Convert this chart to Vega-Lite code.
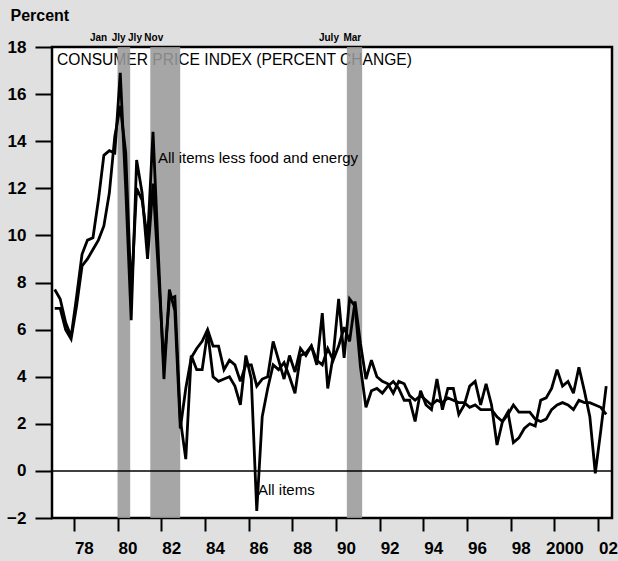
{
  "$schema": "https://vega.github.io/schema/vega-lite/v6.json",
  "width": 560,
  "height": 471,
  "autosize": {"type": "none"},
  "padding": {"left": 52, "top": 47, "right": 6, "bottom": 43},
  "background": "#e0e0e0",
  "config": {
    "view": {"stroke": "#000000", "strokeWidth": 2.5, "fill": "#ffffff"},
    "font": "Liberation Sans",
    "axis": {"grid": false, "domain": false}
  },
  "datasets": {
    "cpi": [
      {"t":1977.125,"s":"all","v":7.7},{"t":1977.375,"s":"all","v":7.3},{"t":1977.625,"s":"all","v":6.3},{"t":1977.875,"s":"all","v":5.7},
      {"t":1978.125,"s":"all","v":7.4},{"t":1978.375,"s":"all","v":9.2},{"t":1978.625,"s":"all","v":9.8},{"t":1978.875,"s":"all","v":9.9},
      {"t":1979.125,"s":"all","v":11.5},{"t":1979.375,"s":"all","v":13.4},{"t":1979.625,"s":"all","v":13.6},{"t":1979.875,"s":"all","v":13.5},
      {"t":1980.125,"s":"all","v":16.9},{"t":1980.375,"s":"all","v":12.0},{"t":1980.625,"s":"all","v":6.4},{"t":1980.875,"s":"all","v":13.2},
      {"t":1981.125,"s":"all","v":11.8},{"t":1981.375,"s":"all","v":9.0},{"t":1981.625,"s":"all","v":12.2},{"t":1981.875,"s":"all","v":8.4},
      {"t":1982.125,"s":"all","v":4.5},{"t":1982.375,"s":"all","v":7.3},{"t":1982.625,"s":"all","v":7.4},{"t":1982.875,"s":"all","v":2.2},
      {"t":1983.125,"s":"all","v":0.5},{"t":1983.375,"s":"all","v":4.9},{"t":1983.625,"s":"all","v":4.3},{"t":1983.875,"s":"all","v":4.3},
      {"t":1984.125,"s":"all","v":5.9},{"t":1984.375,"s":"all","v":4.0},{"t":1984.625,"s":"all","v":3.8},{"t":1984.875,"s":"all","v":3.9},
      {"t":1985.125,"s":"all","v":4.0},{"t":1985.375,"s":"all","v":3.6},{"t":1985.625,"s":"all","v":2.8},{"t":1985.875,"s":"all","v":4.9},
      {"t":1986.125,"s":"all","v":3.9},{"t":1986.375,"s":"all","v":-1.7},{"t":1986.625,"s":"all","v":2.3},{"t":1986.875,"s":"all","v":3.5},
      {"t":1987.125,"s":"all","v":4.5},{"t":1987.375,"s":"all","v":4.3},{"t":1987.625,"s":"all","v":4.6},{"t":1987.875,"s":"all","v":4.0},
      {"t":1988.125,"s":"all","v":3.3},{"t":1988.375,"s":"all","v":4.9},{"t":1988.625,"s":"all","v":5.0},{"t":1988.875,"s":"all","v":5.3},
      {"t":1989.125,"s":"all","v":4.5},{"t":1989.375,"s":"all","v":6.7},{"t":1989.625,"s":"all","v":3.5},{"t":1989.875,"s":"all","v":4.9},
      {"t":1990.125,"s":"all","v":7.3},{"t":1990.375,"s":"all","v":4.8},{"t":1990.625,"s":"all","v":7.3},{"t":1990.875,"s":"all","v":7.0},
      {"t":1991.125,"s":"all","v":4.4},{"t":1991.375,"s":"all","v":2.7},{"t":1991.625,"s":"all","v":3.4},{"t":1991.875,"s":"all","v":3.5},
      {"t":1992.125,"s":"all","v":3.3},{"t":1992.375,"s":"all","v":3.6},{"t":1992.625,"s":"all","v":3.8},{"t":1992.875,"s":"all","v":3.5},
      {"t":1993.125,"s":"all","v":3.0},{"t":1993.375,"s":"all","v":3.0},{"t":1993.625,"s":"all","v":2.1},{"t":1993.875,"s":"all","v":3.4},
      {"t":1994.125,"s":"all","v":2.8},{"t":1994.375,"s":"all","v":2.6},{"t":1994.625,"s":"all","v":3.9},{"t":1994.875,"s":"all","v":2.6},
      {"t":1995.125,"s":"all","v":3.5},{"t":1995.375,"s":"all","v":3.5},{"t":1995.625,"s":"all","v":2.4},{"t":1995.875,"s":"all","v":2.8},
      {"t":1996.125,"s":"all","v":3.6},{"t":1996.375,"s":"all","v":3.8},{"t":1996.625,"s":"all","v":2.8},{"t":1996.875,"s":"all","v":3.7},
      {"t":1997.125,"s":"all","v":2.8},{"t":1997.375,"s":"all","v":1.1},{"t":1997.625,"s":"all","v":2.1},{"t":1997.875,"s":"all","v":2.5},
      {"t":1998.125,"s":"all","v":1.2},{"t":1998.375,"s":"all","v":1.4},{"t":1998.625,"s":"all","v":1.8},{"t":1998.875,"s":"all","v":2.0},
      {"t":1999.125,"s":"all","v":1.9},{"t":1999.375,"s":"all","v":3.0},{"t":1999.625,"s":"all","v":3.1},{"t":1999.875,"s":"all","v":3.5},
      {"t":2000.125,"s":"all","v":4.3},{"t":2000.375,"s":"all","v":3.6},{"t":2000.625,"s":"all","v":3.8},{"t":2000.875,"s":"all","v":3.3},
      {"t":2001.125,"s":"all","v":4.4},{"t":2001.375,"s":"all","v":3.4},{"t":2001.625,"s":"all","v":2.3},{"t":2001.875,"s":"all","v":-0.1},
      {"t":2002.125,"s":"all","v":1.7},{"t":2002.375,"s":"all","v":3.6},
      {"t":1977.125,"s":"core","v":6.9},{"t":1977.375,"s":"core","v":6.9},{"t":1977.625,"s":"core","v":6.0},{"t":1977.875,"s":"core","v":5.6},
      {"t":1978.125,"s":"core","v":7.0},{"t":1978.375,"s":"core","v":8.7},{"t":1978.625,"s":"core","v":9.0},{"t":1978.875,"s":"core","v":9.4},
      {"t":1979.125,"s":"core","v":9.8},{"t":1979.375,"s":"core","v":10.4},{"t":1979.625,"s":"core","v":11.8},{"t":1979.875,"s":"core","v":14.2},
      {"t":1980.125,"s":"core","v":15.5},{"t":1980.375,"s":"core","v":13.5},{"t":1980.625,"s":"core","v":7.5},{"t":1980.875,"s":"core","v":12.0},
      {"t":1981.125,"s":"core","v":11.5},{"t":1981.375,"s":"core","v":9.8},{"t":1981.625,"s":"core","v":14.4},{"t":1981.875,"s":"core","v":9.1},
      {"t":1982.125,"s":"core","v":3.9},{"t":1982.375,"s":"core","v":7.7},{"t":1982.625,"s":"core","v":6.8},{"t":1982.875,"s":"core","v":1.8},
      {"t":1983.125,"s":"core","v":3.5},{"t":1983.375,"s":"core","v":4.8},{"t":1983.625,"s":"core","v":5.2},{"t":1983.875,"s":"core","v":5.5},
      {"t":1984.125,"s":"core","v":6.0},{"t":1984.375,"s":"core","v":5.3},{"t":1984.625,"s":"core","v":5.3},{"t":1984.875,"s":"core","v":4.3},
      {"t":1985.125,"s":"core","v":4.7},{"t":1985.375,"s":"core","v":4.5},{"t":1985.625,"s":"core","v":3.8},{"t":1985.875,"s":"core","v":4.5},
      {"t":1986.125,"s":"core","v":4.5},{"t":1986.375,"s":"core","v":3.6},{"t":1986.625,"s":"core","v":3.9},{"t":1986.875,"s":"core","v":4.0},
      {"t":1987.125,"s":"core","v":5.5},{"t":1987.375,"s":"core","v":4.7},{"t":1987.625,"s":"core","v":3.9},{"t":1987.875,"s":"core","v":4.9},
      {"t":1988.125,"s":"core","v":4.2},{"t":1988.375,"s":"core","v":5.2},{"t":1988.625,"s":"core","v":4.9},{"t":1988.875,"s":"core","v":5.3},
      {"t":1989.125,"s":"core","v":4.7},{"t":1989.375,"s":"core","v":4.5},{"t":1989.625,"s":"core","v":5.2},{"t":1989.875,"s":"core","v":4.7},
      {"t":1990.125,"s":"core","v":5.3},{"t":1990.375,"s":"core","v":6.1},{"t":1990.625,"s":"core","v":5.5},{"t":1990.875,"s":"core","v":7.2},
      {"t":1991.125,"s":"core","v":5.4},{"t":1991.375,"s":"core","v":3.9},{"t":1991.625,"s":"core","v":4.7},{"t":1991.875,"s":"core","v":4.0},
      {"t":1992.125,"s":"core","v":3.8},{"t":1992.375,"s":"core","v":3.7},{"t":1992.625,"s":"core","v":3.3},{"t":1992.875,"s":"core","v":3.8},
      {"t":1993.125,"s":"core","v":3.7},{"t":1993.375,"s":"core","v":3.2},{"t":1993.625,"s":"core","v":3.0},{"t":1993.875,"s":"core","v":3.2},
      {"t":1994.125,"s":"core","v":3.0},{"t":1994.375,"s":"core","v":2.8},{"t":1994.625,"s":"core","v":3.0},{"t":1994.875,"s":"core","v":2.9},
      {"t":1995.125,"s":"core","v":3.1},{"t":1995.375,"s":"core","v":3.0},{"t":1995.625,"s":"core","v":2.9},{"t":1995.875,"s":"core","v":2.9},
      {"t":1996.125,"s":"core","v":2.7},{"t":1996.375,"s":"core","v":2.8},{"t":1996.625,"s":"core","v":2.6},{"t":1996.875,"s":"core","v":2.6},
      {"t":1997.125,"s":"core","v":2.6},{"t":1997.375,"s":"core","v":2.3},{"t":1997.625,"s":"core","v":2.1},{"t":1997.875,"s":"core","v":2.4},
      {"t":1998.125,"s":"core","v":2.8},{"t":1998.375,"s":"core","v":2.5},{"t":1998.625,"s":"core","v":2.5},{"t":1998.875,"s":"core","v":2.5},
      {"t":1999.125,"s":"core","v":2.2},{"t":1999.375,"s":"core","v":2.1},{"t":1999.625,"s":"core","v":2.2},{"t":1999.875,"s":"core","v":2.6},
      {"t":2000.125,"s":"core","v":2.8},{"t":2000.375,"s":"core","v":2.9},{"t":2000.625,"s":"core","v":2.8},{"t":2000.875,"s":"core","v":2.6},
      {"t":2001.125,"s":"core","v":3.0},{"t":2001.375,"s":"core","v":2.9},{"t":2001.625,"s":"core","v":2.9},{"t":2001.875,"s":"core","v":2.8},
      {"t":2002.125,"s":"core","v":2.7},{"t":2002.375,"s":"core","v":2.4}
    ]
  },
  "layer": [
    {
      "data": {"values": [{"t": 1977.23, "v": 17.45, "label": "CONSUMER PRICE INDEX (PERCENT CHANGE)"}]},
      "mark": {"type": "text", "align": "left", "baseline": "middle", "fontSize": 15.6, "color": "#000000", "font": "Liberation Sans"},
      "encoding": {
        "x": {"field": "t", "type": "quantitative"},
        "y": {"field": "v", "type": "quantitative"},
        "text": {"field": "label"}
      }
    },
    {
      "data": {"values": [{"t": 1980.0, "b": 1980.58}, {"t": 1981.5, "b": 1982.87}, {"t": 1990.5, "b": 1991.2}]},
      "mark": {"type": "rect", "color": "#9a9a9a", "opacity": 0.88},
      "encoding": {
        "x": {"field": "t", "type": "quantitative"},
        "x2": {"field": "b"}
      }
    },
    {
      "data": {"values": [{"v": 0}]},
      "mark": {"type": "rule", "color": "#000000", "strokeWidth": 1.5},
      "encoding": {"y": {"field": "v", "type": "quantitative"}}
    },
    {
      "data": {"name": "cpi"},
      "mark": {"type": "line", "color": "#000000", "strokeWidth": 2.8, "strokeJoin": "miter", "strokeMiterLimit": 3},
      "encoding": {
        "x": {
          "field": "t", "type": "quantitative",
          "scale": {"domain": [1977, 2002.64], "nice": false, "zero": false},
          "axis": {
            "title": null, "domain": false, "grid": false,
            "values": [1978,1979,1980,1981,1982,1983,1984,1985,1986,1987,1988,1989,1990,1991,1992,1993,1994,1995,1996,1997,1998,1999,2000,2001,2002],
            "labelExpr": "datum.value % 2 == 0 ? (datum.value == 2000 ? '2000' : substring(toString(datum.value), 2, 4)) : ''",
            "tickSize": 13, "tickWidth": 2, "tickColor": "#000000",
            "labelOffset": 10, "labelPadding": 9, "labelFlush": false, "labelOverlap": false, "labelBound": false,
            "labelFont": "Liberation Sans", "labelFontSize": 17, "labelFontWeight": "bold", "labelColor": "#000000"
          }
        },
        "y": {
          "field": "v", "type": "quantitative",
          "scale": {"domain": [-2, 18], "nice": false, "zero": false},
          "axis": {
            "title": "Percent", "titleAngle": 0, "titleX": -42, "titleY": -32, "titleAlign": "left", "titleBaseline": "middle",
            "titleFont": "Liberation Sans", "titleFontSize": 16, "titleFontWeight": "bold", "titleColor": "#000000",
            "domain": false, "grid": false,
            "values": [-2,0,2,4,6,8,10,12,14,16,18],
            "tickSize": 17, "tickWidth": 2, "tickColor": "#000000",
            "labelPadding": 9, "labelFlush": false, "labelOverlap": false,
            "labelFont": "Liberation Sans", "labelFontSize": 17, "labelFontWeight": "bold", "labelColor": "#000000"
          }
        },
        "detail": {"field": "s", "type": "nominal"}
      }
    },
    {
      "data": {"values": [
        {"t": 1981.85, "v": 13.29, "label": "All items less food and energy"},
        {"t": 1986.43, "v": -0.81, "label": "All items"}
      ]},
      "mark": {"type": "text", "align": "left", "baseline": "middle", "fontSize": 15, "color": "#000000", "font": "Liberation Sans"},
      "encoding": {
        "x": {"field": "t", "type": "quantitative"},
        "y": {"field": "v", "type": "quantitative"},
        "text": {"field": "label"}
      }
    },
    {
      "data": {"values": [
        {"t": 1979.13, "v": 18.38, "label": "Jan"},
        {"t": 1980.05, "v": 18.38, "label": "Jly"},
        {"t": 1980.80, "v": 18.38, "label": "Jly"},
        {"t": 1981.66, "v": 18.38, "label": "Nov"},
        {"t": 1989.68, "v": 18.38, "label": "July"},
        {"t": 1990.75, "v": 18.38, "label": "Mar"}
      ]},
      "mark": {"type": "text", "align": "center", "baseline": "middle", "fontSize": 10, "fontWeight": "bold", "color": "#000000", "font": "Liberation Sans"},
      "encoding": {
        "x": {"field": "t", "type": "quantitative"},
        "y": {"field": "v", "type": "quantitative"},
        "text": {"field": "label"}
      }
    }
  ]
}
